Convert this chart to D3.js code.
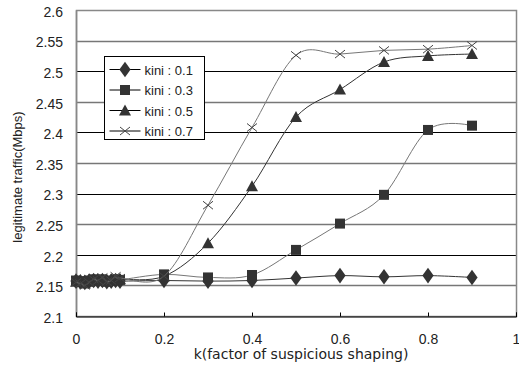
<!DOCTYPE html>
<html>
<head>
<meta charset="utf-8">
<script src="https://cdn.jsdelivr.net/npm/d3@7"></script>
<style>
  body { margin: 0; background: #fff; }
  svg { font-family: "Liberation Sans", Arial, sans-serif; }
</style>
</head>
<body>
<div id="plot"></div>
<script>
// k values (x axis)
const kValues = [0, 0.01, 0.02, 0.03, 0.04, 0.05, 0.06, 0.07, 0.08, 0.09, 0.1, 0.2, 0.3, 0.4, 0.5, 0.6, 0.7, 0.8, 0.9];

// legitimate traffic (Mbps) for each kini
const kini01 = [2.157, 2.156, 2.155, 2.157, 2.158, 2.157, 2.158, 2.156, 2.157, 2.158, 2.157, 2.158, 2.157, 2.158, 2.162, 2.166, 2.164, 2.166, 2.163];
const kini03 = [2.158, 2.157, 2.156, 2.158, 2.160, 2.159, 2.160, 2.157, 2.158, 2.160, 2.159, 2.168, 2.163, 2.167, 2.208, 2.251, 2.298, 2.404, 2.411];
const kini05 = [2.156, 2.155, 2.153, 2.156, 2.158, 2.157, 2.159, 2.156, 2.157, 2.159, 2.160, 2.165, 2.219, 2.312, 2.425, 2.470, 2.515, 2.525, 2.528];
const kini07 = [2.155, 2.153, 2.150, 2.155, 2.160, 2.158, 2.163, 2.156, 2.158, 2.165, 2.162, 2.165, 2.281, 2.408, 2.526, 2.528, 2.534, 2.536, 2.542];

const seriesNames = ["kini : 0.1", "kini : 0.3", "kini : 0.5", "kini : 0.7"];
const seriesValues = [kini01, kini03, kini05, kini07];
const seriesMarkers = ["diamond", "square", "triangle", "cross"];

const yTicks = [2.1, 2.15, 2.2, 2.25, 2.3, 2.35, 2.4, 2.45, 2.5, 2.55, 2.6];
const xTicks = [0, 0.2, 0.4, 0.6, 0.8, 1];

const width = 519;
const height = 367;
const margin = { top: 10, right: 3, bottom: 51, left: 76 };

const svg = d3.select("#plot").append("svg")
  .attr("width", width)
  .attr("height", height)
  .style("background-color", "white");

const x = d3.scaleLinear().domain([0, 1]).range([margin.left, width - margin.right]);
const y = d3.scaleLinear().domain([2.1, 2.6]).range([height - margin.bottom, margin.top]);

// horizontal grid lines (0.1 multiples black, others grey)
svg.append("g")
  .selectAll("line")
  .data(yTicks.slice(1))
  .join("line")
  .attr("x1", x(0)).attr("x2", x(1))
  .attr("y1", d => Math.round(y(d)) + 0.5)
  .attr("y2", d => Math.round(y(d)) + 0.5)
  .attr("stroke", (d, i) => (i % 2 === 0 && d < 2.59) ? "#777" : "#000")
  .attr("stroke-width", (d, i) => (i % 2 === 0) ? 1.5 : 1);

// plot frame: grey border, black bottom axis
svg.append("rect")
  .attr("x", x(0) + 0.5).attr("y", y(2.6) + 0.5)
  .attr("width", x(1) - x(0)).attr("height", y(2.1) - y(2.6))
  .attr("fill", "none").attr("stroke", "#888").attr("stroke-width", 1.5);

// y axis
const yAxis = d3.axisLeft(y).tickValues(yTicks).tickSize(0).tickPadding(13)
  .tickFormat(d => d3.format("")(+d.toFixed(2)));
svg.append("g")
  .attr("transform", `translate(${x(0)},0)`)
  .call(yAxis)
  .call(g => g.select(".domain").attr("stroke", "#888").attr("stroke-width", 1.5))
  .call(g => g.selectAll("text").attr("font-size", 14).attr("dy", "0.45em").attr("fill", "#222"));

// x axis with inward ticks
const xAxis = d3.axisBottom(x).tickValues(xTicks).tickSize(-4).tickPadding(18)
  .tickFormat(d => d3.format("")(d));
svg.append("g")
  .attr("transform", `translate(0,${Math.round(y(2.1)) + 0.5})`)
  .call(xAxis)
  .call(g => g.select(".domain").attr("stroke", "#000"))
  .call(g => g.selectAll("text").attr("font-size", 14).attr("fill", "#222"));

// axis titles
svg.append("text")
  .attr("x", 301)
  .attr("y", 359)
  .attr("text-anchor", "middle")
  .attr("font-family", "DejaVu Sans")
  .attr("font-size", 14)
  .attr("fill", "#222")
  .text("k(factor of suspicious shaping)");

svg.append("text")
  .attr("transform", `translate(22,177) rotate(-90)`)
  .attr("text-anchor", "middle")
  .attr("font-size", 13)
  .attr("fill", "#222")
  .text("legitimate traffic(Mbps)");

// marker drawing
function drawMarker(g, type, cx, cy) {
  if (type === "diamond") {
    g.append("path").attr("d", d3.symbol(d3.symbolDiamond, 70)()).attr("transform", `translate(${cx},${cy}) scale(1.25,1)`).attr("fill", "#333");
  } else if (type === "square") {
    g.append("rect").attr("x", cx - 5).attr("y", cy - 5).attr("width", 10).attr("height", 10).attr("fill", "#333");
  } else if (type === "triangle") {
    g.append("path").attr("d", `M${cx},${cy - 6}L${cx + 6},${cy + 5}L${cx - 6},${cy + 5}Z`).attr("fill", "#333");
  } else {
    g.append("path").attr("d", `M${cx - 5},${cy - 4}L${cx + 5},${cy + 4}M${cx - 5},${cy + 4}L${cx + 5},${cy - 4}`).attr("stroke", "#444").attr("stroke-width", 1).attr("fill", "none");
  }
}

const line = d3.line()
  .x(d => x(d[0]))
  .y(d => y(d[1]))
  .curve(d3.curveCatmullRom.alpha(0));

seriesValues.forEach((vals, i) => {
  const pts = kValues.map((k, j) => [k, vals[j]]);
  svg.append("path")
    .datum(pts)
    .attr("fill", "none")
    .attr("stroke", i % 2 === 0 ? "#333" : "#777")
    .attr("stroke-width", 1)
    .attr("d", line);
  const mg = svg.append("g");
  pts.forEach(p => drawMarker(mg, seriesMarkers[i], x(p[0]), y(p[1])));
});

// legend
const legend = svg.append("g").attr("transform", "translate(104.5,56.5)");
legend.append("rect")
  .attr("width", 100).attr("height", 83)
  .attr("fill", "white").attr("stroke", "#000").attr("stroke-width", 1);
seriesNames.forEach((name, i) => {
  const ly = 13 + i * 20.5;
  legend.append("line")
    .attr("x1", 5).attr("x2", 36).attr("y1", ly).attr("y2", ly)
    .attr("stroke", "#000");
  drawMarker(legend, seriesMarkers[i], 20.5, ly);
  legend.append("text")
    .attr("x", 40).attr("y", ly + 5)
    .attr("font-size", 13)
    .attr("fill", "#222")
    .text(name);
});
</script>
</body>
</html>
